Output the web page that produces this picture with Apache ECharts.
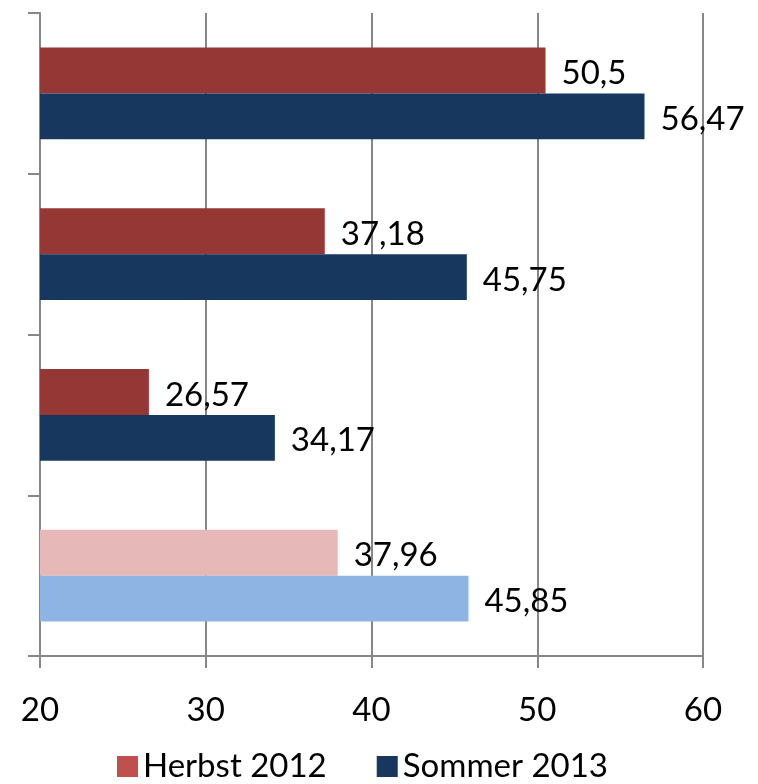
<!DOCTYPE html>
<html>
<head>
<meta charset="utf-8">
<script src="https://cdn.jsdelivr.net/npm/echarts@6/dist/echarts.min.js"></script>
<style>
  html, body { margin: 0; padding: 0; background: #fff; }
  #chart { width: 758px; height: 784px; }
</style>
</head>
<body>
<div id="chart"></div>
<script>
// categories have no visible labels in the reference
const categories = ['A', 'B', 'C', 'D'];
const herbst2012 = [50.5, 37.18, 26.57, 37.96];
const sommer2013 = [56.47, 45.75, 34.17, 45.85];
const xTicks = [20, 30, 40, 50, 60];

const herbstColors = ['#953735', '#953735', '#953735', '#E6B9B8'];
const sommerColors = ['#17375E', '#17375E', '#17375E', '#8EB4E3'];

const fontFamily = 'Lato, "Open Sans", sans-serif';
const gridColor = '#878787';

function fmt(v) {
    return String(v).replace('.', ',');
}

function buildData(values, colors) {
    return values.map(function (v, i) {
        return { value: v, itemStyle: { color: colors[i] } };
    });
}

const labelStyle = {
    show: true,
    position: 'right',
    distance: 16,
    offset: [0, 3],
    color: '#000',
    fontSize: 33,
    fontFamily: fontFamily,
    formatter: function (p) { return fmt(p.value); }
};

const chart = echarts.init(document.getElementById('chart'));
chart.setOption({
    animation: false,
    grid: { left: 40, right: 55, top: 13, bottom: 128, containLabel: false },
    legend: {
        bottom: -4,
        left: 112,
        itemWidth: 21,
        itemHeight: 21,
        itemGap: 50,
        icon: 'rect',
        textStyle: { fontSize: 33, fontFamily: fontFamily, color: '#000' },
        data: ['Herbst 2012', 'Sommer 2013']
    },
    xAxis: {
        type: 'value',
        min: xTicks[0],
        max: xTicks[xTicks.length - 1],
        interval: 10,
        axisLine: { show: true, lineStyle: { color: gridColor, width: 2 } },
        axisTick: { show: true, length: 12, lineStyle: { color: gridColor, width: 2 } },
        splitLine: { show: true, lineStyle: { color: gridColor, width: 2 } },
        axisLabel: { fontSize: 33, fontFamily: fontFamily, color: '#000', margin: 38 }
    },
    yAxis: {
        type: 'category',
        inverse: true,
        data: categories,
        axisLine: { show: true, lineStyle: { color: gridColor, width: 2 } },
        axisTick: { show: true, length: 12, lineStyle: { color: gridColor, width: 2 } },
        axisLabel: { show: false }
    },
    series: [
        {
            name: 'Herbst 2012',
            type: 'bar',
            itemStyle: { color: '#C0504D' },
            barGap: '0%',
            barCategoryGap: '43%',
            label: labelStyle,
            data: buildData(herbst2012, herbstColors)
        },
        {
            name: 'Sommer 2013',
            type: 'bar',
            itemStyle: { color: '#17375E' },
            label: labelStyle,
            data: buildData(sommer2013, sommerColors)
        }
    ]
});
</script>
</body>
</html>
